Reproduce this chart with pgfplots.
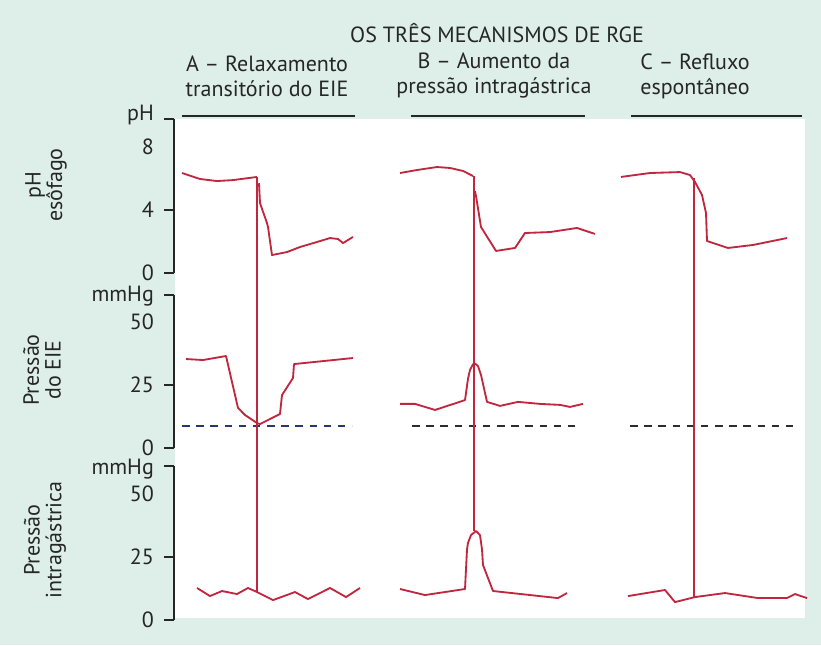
\documentclass[border=0pt]{standalone}
\usepackage{pgfplots}
\pgfplotsset{compat=1.18}
\usepackage{fontspec}
\setmainfont{PT Sans}
\definecolor{mint}{RGB}{221,239,232}
\definecolor{tracered}{RGB}{192,38,62}
\definecolor{navy}{RGB}{40,55,110}
\definecolor{dashgray}{RGB}{45,45,45}
\pgfplotsset{
  panel/.style={
    scale only axis, width=378.6pt, xmin=0, xmax=631,
    axis x line=none, axis y line*=left,
    y axis line style={line width=0.9pt, black!85},
    tick align=outside, major tick length=6pt,
    ytick style={line width=0.9pt, black!85},
    yticklabel style={font=\fontsize{13.2}{14}\selectfont, text=black!85, xshift=-1.5pt},
    /pgf/number format/assume math mode=true,
    extra y tick style={major tick style={draw=none}},
    clip=false,
  },
  redtrace/.style={tracered, line width=1.1pt, line join=round, no markers},
  base/.style={line width=0.8pt, dash pattern=on 4.5pt off 4pt, no markers},
}
\begin{document}
\fontsize{13.2}{15}\selectfont
\begin{tikzpicture}[x=0.6pt,y=0.6pt]
\fill[mint] (0,0) rectangle (821,645);
\fill[white] (175,27) rectangle (805,526);
\path[use as bounding box] (0,0) rectangle (821,645);
% titles
\node[text=black!85] at (497,612) {OS TRÊS MECANISMOS DE RGE};
\node[align=center, text=black!85] at (267,569) {A – Relaxamento\\transitório do EIE};
\node[align=center, text=black!85] at (494,569) {B – Aumento da\\pressão intragástrica};
\node[align=center, text=black!85] at (695,569) {C – Refluxo\\espontâneo};
\draw[line width=0.9pt, black!85] (182,529) -- (355,529);
\draw[line width=0.9pt, black!85] (411,529) -- (585,529);
\draw[line width=0.9pt, black!85] (631,529) -- (802,529);
% side labels
\node[rotate=90, align=center, text=black!85, font=\fontsize{13.2}{13}\selectfont] at (46,460) {pH\\esôfago};
\node[rotate=90, align=center, text=black!85, font=\fontsize{13.2}{13}\selectfont] at (42,275) {Pressão\\do EIE};
\node[rotate=90, align=center, text=black!85, font=\fontsize{13.2}{13}\selectfont] at (45,105) {Pressão\\intragástrica};

% ---------- pH esophagus ----------
\begin{axis}[panel, at={(104.4pt,223.2pt)}, anchor=south west, height=92.4pt,
  ymin=0, ymax=9.78, ytick={0,4,9.78}, yticklabels={0,4,\raisebox{-1pt}[0pt][0pt]{pH}},
  extra y ticks={8}, extra y tick labels={8}]
\addplot[redtrace] coordinates {(8,6.35) (26,5.97) (43,5.84) (59,5.9) (83,6.1)};
\addplot[redtrace] coordinates {(85,5.7) (86,4.44) (93,3.17) (94,2.92) (98,1.14) (113,1.33) (126,1.65) (143,1.97) (156,2.22) (164,2.16) (169,1.9) (179,2.29)};
\addplot[redtrace] coordinates {(226,6.35) (243,6.54) (263,6.73) (276,6.67) (289,6.48) (299,6.16)};
\addplot[redtrace] coordinates {(301,5.2) (302,4.89) (307,2.92) (322,1.40) (341,1.59) (351,2.54) (376,2.6) (403,2.86) (421,2.48)};
\addplot[redtrace] coordinates {(447,6.1) (476,6.35) (506,6.41) (516,6.22) (521,5.78) (528,4.95) (532,3.81) (533,2.03) (554,1.59) (579,1.78) (613,2.22)};
\end{axis}

% ---------- LES pressure ----------
\begin{axis}[panel, at={(104.4pt,118.2pt)}, anchor=south west, height=91.8pt,
  ymin=0, ymax=60.7, ytick={0,25,60.7}, yticklabels={0,25,\raisebox{-4pt}[0pt][0pt]{mmHg}},
  extra y ticks={50}, extra y tick labels={50}]
\addplot[base, navy] coordinates {(8,8.7) (178,8.7)};
\addplot[base, dashgray] coordinates {(238,8.7) (406,8.7)};
\addplot[base, dashgray] coordinates {(456,8.7) (625,8.7)};
\addplot[redtrace] coordinates {(12,35.3) (29,34.9) (52,36.5) (64,15.9) (71,13.1) (83,9.9) (86,9.5) (106,13.5) (108,21.0) (119,27.8) (120,33.3) (179,35.7)};
\addplot[redtrace] coordinates {(226,17.5) (241,17.5) (261,15.1) (291,19.0) (294,27.5) (296,31) (299,33.2) (301,33.5) (304,32.5) (307,29) (313,18.3) (326,16.7) (344,18.3) (366,17.5) (386,17.1) (396,16.3) (409,17.5)};
\end{axis}

% ---------- intragastric pressure ----------
\begin{axis}[panel, at={(104.4pt,15pt)}, anchor=south west, height=92.4pt,
  ymin=0, ymax=61.1, ytick={0,25,61.1}, yticklabels={0,25,\raisebox{-5pt}[0pt][0pt]{mmHg}},
  extra y ticks={50}, extra y tick labels={50}]
\addplot[redtrace] coordinates {(23,12.7) (36,9.5) (48,11.5) (63,10.3) (74,12.7) (83,11.1) (99,7.9) (121,11.1) (134,8.3) (156,12.7) (172,9.1) (186,12.7)};
\addplot[redtrace] coordinates {(226,12.3) (251,9.9) (291,12.3) (293,28) (294,30.6) (297,33.7) (302,35.3) (306,33.7) (308,28) (309,21.8) (319,11.5) (384,8.7) (393,10.7)};
\addplot[redtrace] coordinates {(454,9.5) (491,11.9) (501,7.1) (521,9.1) (551,10.7) (584,8.7) (613,8.7) (621,10.3) (633,8.7)};
% vertical reflux markers spanning the three records
\addplot[redtrace] coordinates {(83,11.1) (83,175.8)};
\addplot[redtrace] coordinates {(300,35.3) (300,176.2)};
\addplot[redtrace] coordinates {(520,9.1) (520,175.4)};
\end{axis}
\end{tikzpicture}
\end{document}
